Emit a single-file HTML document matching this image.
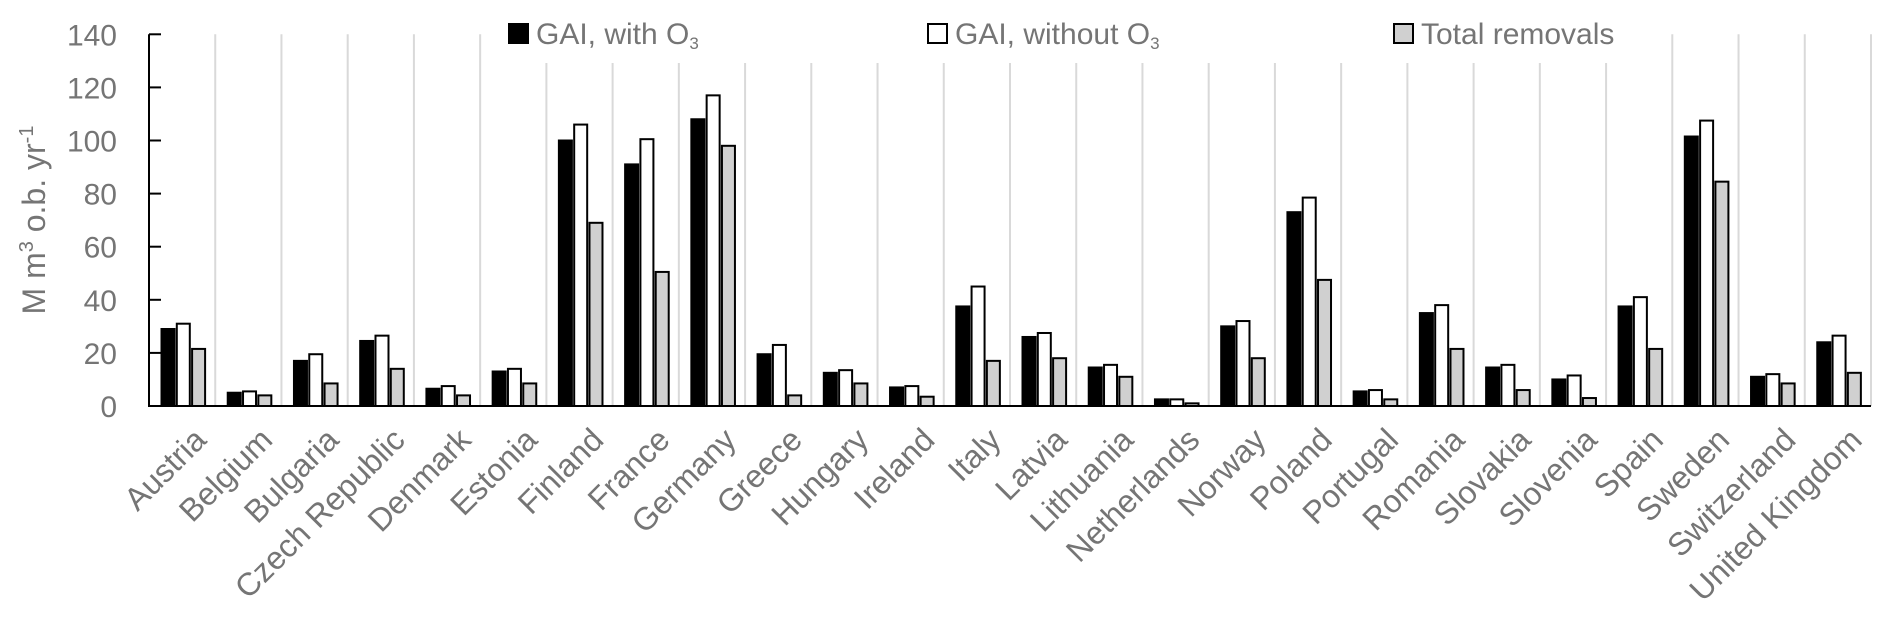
<!DOCTYPE html>
<html><head><meta charset="utf-8"><style>
html,body{margin:0;padding:0;background:#fff;}
svg{display:block;font-family:"Liberation Sans",sans-serif;}
</style></head><body>
<svg id="chart" width="1892" height="629" viewBox="0 0 1892 629"></svg>
<script>
const categories=["Austria","Belgium","Bulgaria","Czech Republic","Denmark","Estonia","Finland","France","Germany","Greece","Hungary","Ireland","Italy","Latvia","Lithuania","Netherlands","Norway","Poland","Portugal","Romania","Slovakia","Slovenia","Spain","Sweden","Switzerland","United Kingdom"];
const gaiWithO3=[29,5,17,24.5,6.5,13,100,91,108,19.5,12.5,7,37.5,26,14.5,2.5,30,73,5.5,35,14.5,10,37.5,101.5,11,24];
const gaiWithoutO3=[31,5.5,19.5,26.5,7.5,14,106,100.5,117,23,13.5,7.5,45,27.5,15.5,2.5,32,78.5,6,38,15.5,11.5,41,107.5,12,26.5];
const totalRemovals=[21.5,4,8.5,14,4,8.5,69,50.5,98,4,8.5,3.5,17,18,11,1,18,47.5,2.5,21.5,6,3,21.5,84.5,8.5,12.5];
const yTicks=[0,20,40,60,80,100,120,140];
const seriesNames=["GAI, with O","GAI, without O","Total removals"];

const NS="http://www.w3.org/2000/svg";
const svg=document.getElementById('chart');
const X0=149,X1=1871,Y0=406,Y140=34.3;
const catW=(X1-X0)/categories.length;
const y=v=>Y0-(v/140)*(Y0-Y140);
const xc=i=>X0+catW*i;
function mk(tag,attrs,parent){const e=document.createElementNS(NS,tag);for(const k in attrs)e.setAttribute(k,attrs[k]);(parent||svg).appendChild(e);return e;}

for(let i=1;i<=categories.length;i++){
  const g=mk('line',{x1:xc(i),x2:xc(i),y1:Y140,y2:Y0,stroke:'#d9d9d9','stroke-width':2});
  
  
}
mk('rect',{x:500,y:8,width:1140,height:55,fill:'#fff'});

yTicks.forEach(t=>{
  const tl=mk('line',{x1:X0,x2:X0+12,y1:y(t),y2:y(t),stroke:'#000','stroke-width':2});
  
  
  const tx=mk('text',{x:117,y:y(t)+11,'text-anchor':'end','font-size':30,fill:'#757575'});
  tx.textContent=t;
  
  
});

const series=[gaiWithO3,gaiWithoutO3,totalRemovals];
const fills=['#000','#fff','#d0d0d0'];
const names=['bar-gai-with-o3','bar-gai-without-o3','bar-total-removals'];
const bw=13,step=15.3,off=12.5;
categories.forEach((c,i)=>{
  series.forEach((s,k)=>{
    const top=y(s[i]);
    const r=mk('rect',{x:xc(i)+off+k*step,y:top,width:bw,height:Y0-top,fill:fills[k],stroke:'#000','stroke-width':2});
    
    
  });
  const ax=xc(i)+catW/2+10, ay=426;
  const t=mk('text',{x:ax,y:ay,'text-anchor':'end','font-size':32,fill:'#757575',transform:`rotate(-45 ${ax} ${ay})`,dy:'0.7em'});
  t.textContent=c;
  
  
});

const xa=mk('line',{x1:X0,x2:X1,y1:Y0,y2:Y0,stroke:'#000','stroke-width':2});


const ya=mk('line',{x1:X0,x2:X0,y1:Y140,y2:Y0+1,stroke:'#000','stroke-width':2});



const yt=mk('text',{x:0,y:0,'text-anchor':'middle','font-size':32,fill:'#757575',transform:'translate(45 220) rotate(-90)'});
yt.innerHTML='M m<tspan font-size="20" dy="-12">3</tspan><tspan dy="12"> o.b. yr</tspan><tspan font-size="20" dy="-12">-1</tspan>';



const legX=[508,927,1393];
seriesNames.forEach((n,k)=>{
  const g=mk('g',{});
  
  
  mk('rect',{x:legX[k]+1,y:24,width:19,height:19,fill:fills[k],stroke:'#000','stroke-width':2},g);
  const t=mk('text',{x:legX[k]+28,y:44,'font-size':30,fill:'#757575'},g);
  t.textContent=n;
  if(k<2){const s=mk('tspan',{'font-size':17,dy:5},t);s.textContent='3';}
});
</script>
</body></html>
